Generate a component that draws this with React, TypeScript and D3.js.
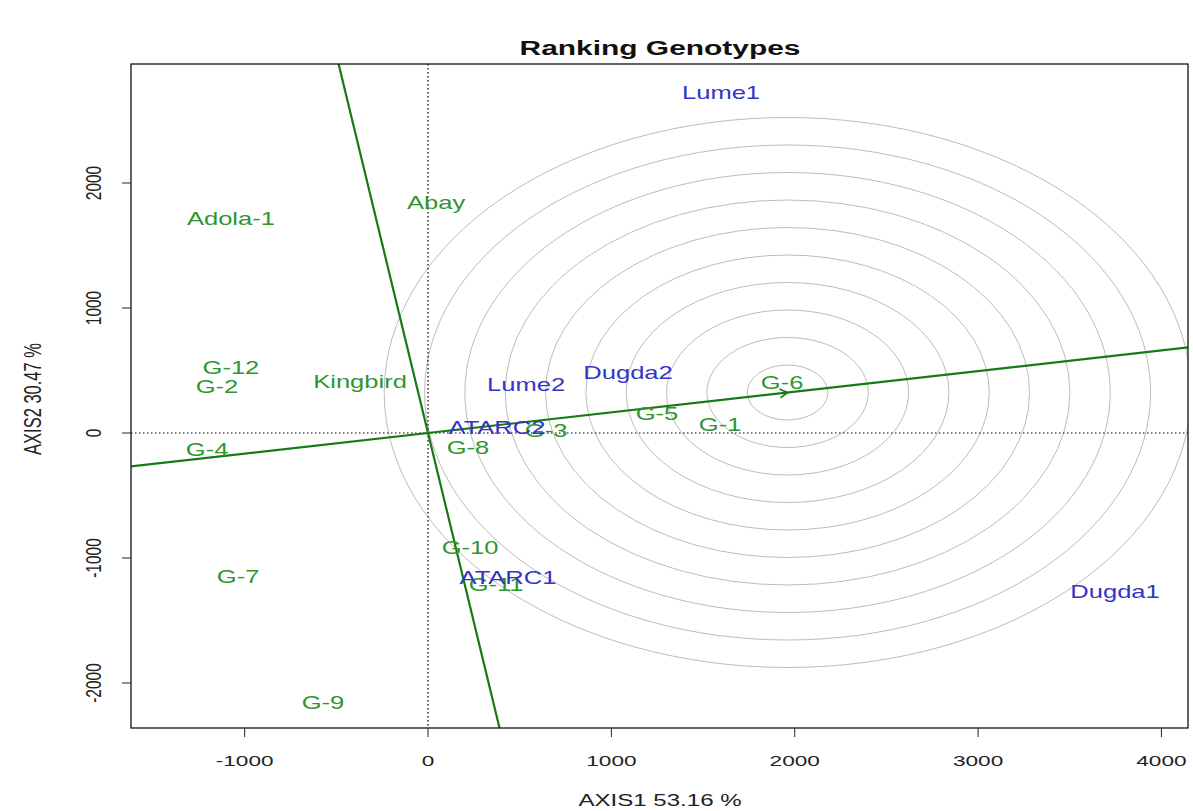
import React, { useEffect, useRef } from "react";
import * as d3 from "d3";

// Genotype labels and their biplot coordinates (AXIS1, AXIS2)
const genotypes = ["Abay", "Adola-1", "G-12", "G-2", "Kingbird", "G-4", "G-8", "G-3", "G-5", "G-1", "G-6", "G-10", "G-11", "G-7", "G-9"];
const genoX = [44, -1075, -1075, -1151, -371, -1205, 218, 644, 1249, 1593, 1931, 229, 371, -1036, -573];
const genoY = [1840, 1712, 520, 368, 408, -136, -120, 16, 152, 64, 400, -920, -1216, -1152, -2160];

// Tester (environment) labels and coordinates
const testers = ["Lume1", "Lume2", "Dugda2", "ATARC2", "ATARC1", "Dugda1"];
const testX = [1598, 535, 1091, 376, 436, 3747];
const testY = [2720, 384, 480, 40, -1160, -1272];

// Ideal genotype (center of the concentric rings)
const idealPoint = [1961, 324];
const ringStep = 220;
const ringCount = 10;

const xTicks = [-1000, 0, 1000, 2000, 3000, 4000];
const yTicks = [-2000, -1000, 0, 1000, 2000];
const xDomain = [-1620, 4145];
const yDomain = [-2360, 2952];

const W = 1193;
const H = 811;
const SX = 1.46; // picture is stretched sideways, text too
const FONT = "'Liberation Sans', Arial, sans-serif";

const App = () => {
  const ref = useRef<SVGSVGElement>(null);

  useEffect(() => {
    if (!ref.current) return;
    const svg = d3.select(ref.current);
    svg.selectAll("*").remove();

    const box = { left: 131, right: 1188, top: 64, bottom: 728 };
    const x = d3.scaleLinear().domain(xDomain).range([box.left, box.right]);
    const y = d3.scaleLinear().domain(yDomain).range([box.bottom, box.top]);

    svg.append("rect").attr("width", W).attr("height", H).attr("fill", "#fff");

    svg.append("defs").append("clipPath").attr("id", "plotClip")
      .append("rect")
      .attr("x", box.left).attr("y", box.top)
      .attr("width", box.right - box.left).attr("height", box.bottom - box.top);

    const plot = svg.append("g").attr("clip-path", "url(#plotClip)");

    // concentric rings around the ideal genotype (circles in data units)
    const rings = d3.range(1, ringCount + 1).map(k => k * ringStep);
    plot.selectAll(".ring")
      .data(rings)
      .enter()
      .append("ellipse")
      .attr("cx", x(idealPoint[0]))
      .attr("cy", y(idealPoint[1]))
      .attr("rx", r => x(r) - x(0))
      .attr("ry", r => y(0) - y(r))
      .attr("fill", "none")
      .attr("stroke", "#bcbcbc")
      .attr("stroke-width", 1);

    // dotted zero lines
    plot.append("line")
      .attr("x1", x(0)).attr("x2", x(0)).attr("y1", box.top).attr("y2", box.bottom)
      .attr("stroke", "#000").attr("stroke-width", 1.2).attr("stroke-dasharray", "1.5,2.5");
    plot.append("line")
      .attr("x1", box.left).attr("x2", box.right).attr("y1", y(0)).attr("y2", y(0))
      .attr("stroke", "#000").attr("stroke-width", 1.2).attr("stroke-dasharray", "1.5,2.5");

    // average environment axis and its perpendicular
    const s = idealPoint[1] / idealPoint[0];
    const lineGreen = "#157a15";
    plot.append("line")
      .attr("x1", x(xDomain[0] - 500)).attr("y1", y(s * (xDomain[0] - 500)))
      .attr("x2", x(xDomain[1] + 500)).attr("y2", y(s * (xDomain[1] + 500)))
      .attr("stroke", lineGreen).attr("stroke-width", 2.2);
    plot.append("line")
      .attr("x1", x(-s * (yDomain[1] + 500))).attr("y1", y(yDomain[1] + 500))
      .attr("x2", x(-s * (yDomain[0] - 500))).attr("y2", y(yDomain[0] - 500))
      .attr("stroke", lineGreen).attr("stroke-width", 2.2);

    // arrow head at the ideal point
    const tipX = x(idealPoint[0]);
    const tipY = y(idealPoint[1]);
    const ang = Math.atan2(tipY - y(0), tipX - x(0));
    [Math.PI / 6, -Math.PI / 6].forEach(a => {
      plot.append("line")
        .attr("x1", tipX).attr("y1", tipY)
        .attr("x2", tipX - 9 * Math.cos(ang + a)).attr("y2", tipY - 9 * Math.sin(ang + a))
        .attr("stroke", lineGreen).attr("stroke-width", 1.6);
    });

    const label = (g: any, px: number, py: number, text: string, color: string, size: number, extra?: (t: any) => void) => {
      const t = g.append("text")
        .attr("transform", `translate(${px},${py}) scale(${SX},1)`)
        .attr("text-anchor", "middle")
        .style("font-family", FONT)
        .style("font-size", `${size}px`)
        .style("fill", color)
        .text(text);
      if (extra) extra(t);
      return t;
    };

    // genotypes first, testers on top
    genotypes.forEach((name, i) => {
      label(svg, x(genoX[i]), y(genoY[i]) + 6, name, "#2f962f", 17.5);
    });
    testers.forEach((name, i) => {
      label(svg, x(testX[i]), y(testY[i]) + 6, name, "#3434c4", 17.5);
    });

    // frame
    svg.append("rect")
      .attr("x", box.left).attr("y", box.top)
      .attr("width", box.right - box.left).attr("height", box.bottom - box.top)
      .attr("fill", "none").attr("stroke", "#111").attr("stroke-width", 1.3);

    // x axis
    xTicks.forEach(v => {
      svg.append("line")
        .attr("x1", x(v)).attr("x2", x(v)).attr("y1", box.bottom).attr("y2", box.bottom + 9)
        .attr("stroke", "#222");
      label(svg, x(v), 766, String(v), "#222", 15.5);
    });

    // y axis
    yTicks.forEach(v => {
      svg.append("line")
        .attr("x1", box.left - 9).attr("x2", box.left).attr("y1", y(v)).attr("y2", y(v))
        .attr("stroke", "#222");
      svg.append("text")
        .attr("transform", `translate(101,${y(v)}) scale(${SX},1) rotate(-90)`)
        .attr("text-anchor", "middle")
        .style("font-family", FONT)
        .style("font-size", "15.5px")
        .style("fill", "#222")
        .text(String(v));
    });

    // axis titles
    label(svg, 660, 806, "AXIS1 53.16 %", "#222", 16.5);
    svg.append("text")
      .attr("transform", `translate(41,399) scale(${SX},1) rotate(-90)`)
      .attr("text-anchor", "middle")
      .style("font-family", FONT)
      .style("font-size", "16.5px")
      .style("fill", "#222")
      .text("AXIS2 30.47 %");

    // title
    label(svg, 660, 55, "Ranking Genotypes", "#111", 20.5, t => t.style("font-weight", "bold"));
  }, []);

  return (
    <div style={{ position: "absolute", left: 0, top: 0, width: W, height: H, background: "#fff" }}>
      <svg ref={ref} width={W} height={H} />
    </div>
  );
};

export default App;
